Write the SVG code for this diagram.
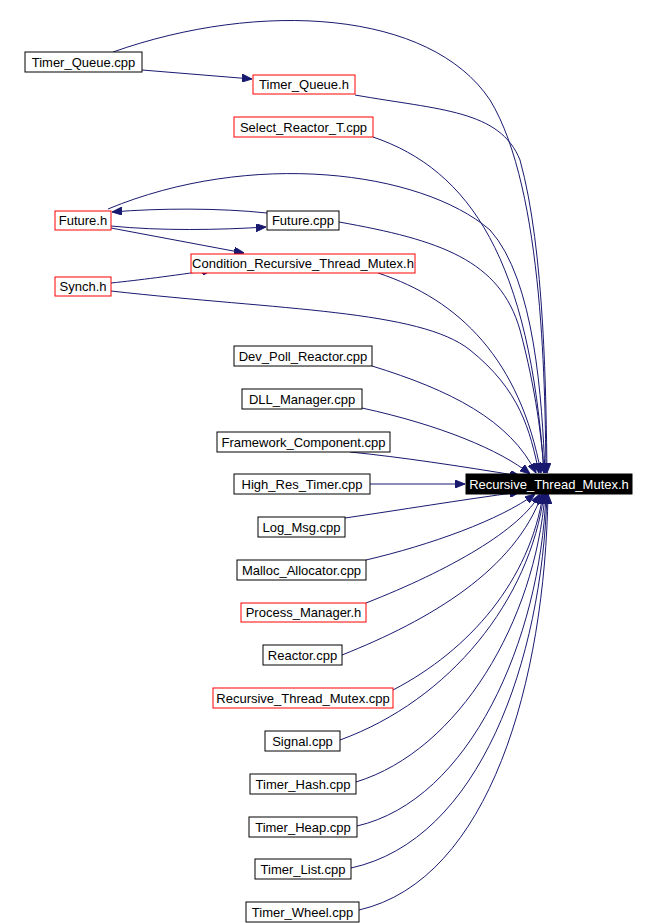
<svg xmlns="http://www.w3.org/2000/svg" width="657" height="923" viewBox="0 0 657 923">
<style>
.n rect{fill:#fff;stroke:#000;stroke-width:1}
.n.r rect{stroke:#f00}
.n text{font-family:"Liberation Sans",Arial,sans-serif;font-size:13px;text-anchor:middle;fill:#000}
#edges path{fill:none;stroke:#191970;stroke-width:1;marker-end:url(#a)}
</style>
<defs><marker id="a" markerWidth="10" markerHeight="8" refX="10" refY="4" orient="auto" markerUnits="userSpaceOnUse"><path d="M0,0L10,4L0,8z" fill="#191970" stroke="#191970"/></marker></defs>
<rect width="657" height="923" fill="#fff"/>
<g id="edges">
<path d="M113,52C260,0 430,10 490,100C545,190 545,400 546,473"/>
<path d="M142,70L252,79"/>
<path d="M355,95C440,110 500,110 520,160C545,250 546,400 547,473"/>
<path d="M373,137C470,170 530,260 544,473"/>
<path d="M108,209C250,150 420,170 490,230C535,280 542,400 545,473"/>
<path d="M267,213C220,208 160,208 112,212"/>
<path d="M111,226C160,231 220,230 266,227"/>
<path d="M339,222C440,240 500,260 520,330C536,390 542,440 544,473"/>
<path d="M111,228L244,253"/>
<path d="M111,283C140,280 170,276 212,270"/>
<path d="M378,273C460,300 520,360 541,473"/>
<path d="M111,291C280,310 420,310 470,350C520,390 530,430 539,473"/>
<path d="M372,366C450,390 510,420 536,473"/>
<path d="M362,408C440,425 500,450 530,474"/>
<path d="M350,452C400,457 460,466 520,476"/>
<path d="M370,484L465,484"/>
<path d="M345,518C400,510 460,500 520,492"/>
<path d="M366,560C430,545 500,520 535,494"/>
<path d="M366,603C450,570 520,530 540,494"/>
<path d="M342,655C430,620 515,570 542,494"/>
<path d="M393,690C470,650 530,580 543,494"/>
<path d="M340,740C450,700 530,600 544,494"/>
<path d="M356,782C460,750 535,620 545,494"/>
<path d="M357,826C470,800 540,640 546,494"/>
<path d="M351,868C480,840 542,660 547,494"/>
<path d="M359,910C490,880 545,680 548,494"/>
</g>
<g id="n0" class="n"><rect x="466" y="474" width="166" height="20" fill="#000" style="fill:#000"/><text x="549" y="489" style="fill:#fff">Recursive_Thread_Mutex.h</text></g>
<g id="n1" class="n"><rect x="25" y="52" width="117" height="20"/><text x="83.5" y="67">Timer_Queue.cpp</text></g>
<g id="n2" class="n r"><rect x="253" y="75" width="102" height="19"/><text x="304" y="89">Timer_Queue.h</text></g>
<g id="n3" class="n r"><rect x="234" y="117" width="139" height="20"/><text x="303.5" y="132">Select_Reactor_T.cpp</text></g>
<g id="n4" class="n r"><rect x="55" y="211" width="56" height="19"/><text x="83" y="225">Future.h</text></g>
<g id="n5" class="n"><rect x="267" y="211" width="72" height="19"/><text x="303" y="225">Future.cpp</text></g>
<g id="n6" class="n r"><rect x="191" y="254" width="224" height="19"/><text x="303" y="268">Condition_Recursive_Thread_Mutex.h</text></g>
<g id="n7" class="n r"><rect x="55" y="277" width="56" height="19"/><text x="83" y="291">Synch.h</text></g>
<g id="n8" class="n"><rect x="234" y="346" width="138" height="20"/><text x="303" y="361">Dev_Poll_Reactor.cpp</text></g>
<g id="n9" class="n"><rect x="242" y="389" width="120" height="20"/><text x="302" y="404">DLL_Manager.cpp</text></g>
<g id="n10" class="n"><rect x="217" y="432" width="173" height="20"/><text x="303.5" y="447">Framework_Component.cpp</text></g>
<g id="n11" class="n"><rect x="234" y="474" width="136" height="20"/><text x="302" y="489">High_Res_Timer.cpp</text></g>
<g id="n12" class="n"><rect x="258" y="517" width="87" height="20"/><text x="301.5" y="532">Log_Msg.cpp</text></g>
<g id="n13" class="n"><rect x="237" y="560" width="129" height="20"/><text x="301.5" y="575">Malloc_Allocator.cpp</text></g>
<g id="n14" class="n r"><rect x="241" y="603" width="125" height="19"/><text x="303.5" y="617">Process_Manager.h</text></g>
<g id="n15" class="n"><rect x="263" y="645" width="79" height="20"/><text x="302.5" y="660">Reactor.cpp</text></g>
<g id="n16" class="n r"><rect x="213" y="688" width="180" height="20"/><text x="303" y="703">Recursive_Thread_Mutex.cpp</text></g>
<g id="n17" class="n"><rect x="265" y="731" width="75" height="20"/><text x="302.5" y="746">Signal.cpp</text></g>
<g id="n18" class="n"><rect x="250" y="774" width="106" height="20"/><text x="303" y="789">Timer_Hash.cpp</text></g>
<g id="n19" class="n"><rect x="249" y="817" width="108" height="20"/><text x="303" y="832">Timer_Heap.cpp</text></g>
<g id="n20" class="n"><rect x="255" y="859" width="96" height="20"/><text x="303" y="874">Timer_List.cpp</text></g>
<g id="n21" class="n"><rect x="246" y="902" width="113" height="20"/><text x="302.5" y="917">Timer_Wheel.cpp</text></g>
</svg>
